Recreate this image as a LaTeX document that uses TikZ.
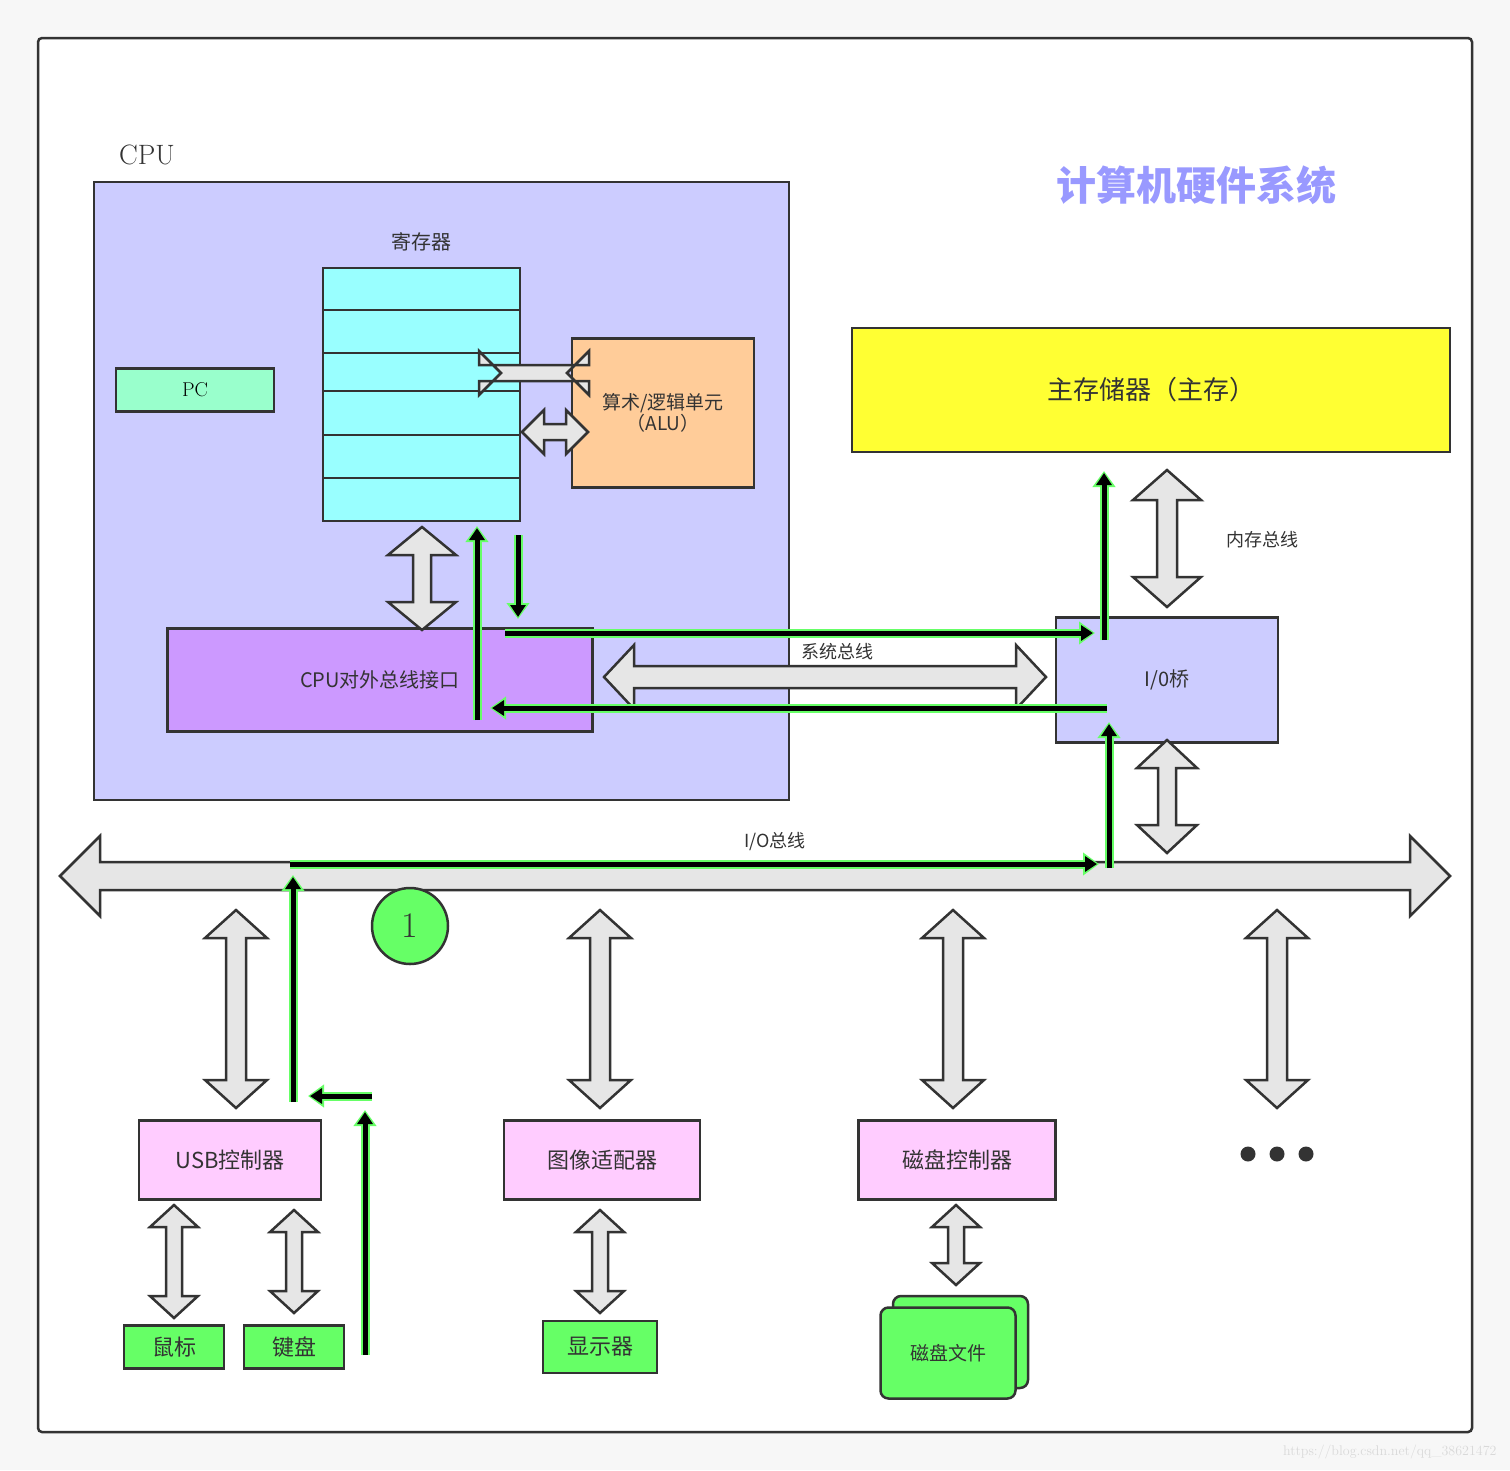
\documentclass[tikz,border=0pt]{standalone}
\usepackage{fontspec}
\newfontfamily\cjk{Noto Sans CJK SC}
\usetikzlibrary{arrows.meta}
\definecolor{bord}{HTML}{333333}
\definecolor{hol}{HTML}{E6E6E6}
\definecolor{glow}{HTML}{66FF66}
\newcommand{\fs}[1]{\fontsize{#1}{#1}\selectfont}
% vertical double hollow arrow: x, ytop, ybot, body half, head half, head len
\newcommand{\vdbl}[6]{\draw[bord,line width=2.5pt,fill=hol,line join=miter]
 (#1,#2) -- (#1+#5,#2+#6) -- (#1+#4,#2+#6) -- (#1+#4,#3-#6) -- (#1+#5,#3-#6) -- (#1,#3)
 -- (#1-#5,#3-#6) -- (#1-#4,#3-#6) -- (#1-#4,#2+#6) -- (#1-#5,#2+#6) -- cycle;}
\newcommand{\hdbl}[6]{\draw[bord,line width=2.5pt,fill=hol,line join=miter]
 (#2,#1) -- (#2+#6,#1-#5) -- (#2+#6,#1-#4) -- (#3-#6,#1-#4) -- (#3-#6,#1-#5) -- (#3,#1)
 -- (#3-#6,#1+#5) -- (#3-#6,#1+#4) -- (#2+#6,#1+#4) -- (#2+#6,#1+#5) -- cycle;}
\tikzset{box/.style={draw=bord,line width=2.5pt},
 flow/.style={line width=9pt,glow,-{Triangle[length=16pt,width=22pt]}},
 flowin/.style={line width=5pt,black,shorten >=2pt,-{Triangle[length=12pt,width=15pt]}},
 lbl/.style={font=\cjk\fs{20},text=bord}}
\newcommand{\flowp}[2]{\draw[flow] #1 -- #2; \draw[flowin] #1 -- #2;}
\begin{document}
\begin{tikzpicture}[x=1pt,y=-1pt]
\fill[white!97!black] (0,0) rectangle (1510,1470);
\useasboundingbox (0,0) rectangle (1510,1470);
\draw[box,fill=white,rounded corners=4pt] (38,38) rectangle (1472,1432);
\node[font=\fs{28},text=bord] (cpul) at (147,155) {CPU};
\draw[box,fill={rgb,255:red,204;green,204;blue,255}] (94,182) rectangle (789,800);
\node[font=\cjk\bfseries\fs{40},text={rgb,255:red,153;green,153;blue,255}] (title) at (1196,185) {计算机硬件系统};
\node[lbl] (regl) at (421,242) {寄存器};
\draw[box,fill={rgb,255:red,153;green,255;blue,255}] (323,268) rectangle (520,521);
\foreach \y in {310,353,391,435,478} \draw[bord,line width=2.5pt] (323,\y) -- (520,\y);
\node[box,fill={rgb,255:red,153;green,255;blue,204},minimum width=158pt,minimum height=43pt,font=\fs{20}] (pc) at (195,390) {PC};
\node[box,fill={rgb,255:red,255;green,204;blue,153},minimum width=182pt,minimum height=149pt,align=center,font=\cjk\fs{19},text=bord] (alu) at (663,413) {算术/逻辑单元\\（ALU）};
\hdbl{373}{567}{501}{8}{22}{22}
\hdbl{432}{522}{588}{8}{22}{22}
\node[box,fill={rgb,255:red,255;green,255;blue,51},minimum width=598pt,minimum height=124pt,font=\cjk\fs{26},text=bord] (mem) at (1151,390) {主存储器（主存）};
\vdbl{1167}{470}{607}{10}{34}{30}
\node[lbl,font=\cjk\fs{18}] (mbl) at (1262,540) {内存总线};
\node[box,fill={rgb,255:red,204;green,204;blue,255},minimum width=222pt,minimum height=125pt,font=\cjk\fs{20},text=bord] (iob) at (1167,680) {I/0桥};
\node[box,fill={rgb,255:red,204;green,153;blue,255},minimum width=425pt,minimum height=103pt,font=\cjk\fs{20},text=bord] (bif) at (380,680) {CPU对外总线接口};
\vdbl{422}{527}{630}{9}{34}{28}
\hdbl{677}{604}{1046}{11}{32}{30}
\node[lbl,font=\cjk\fs{18}] (sbl) at (837,652) {系统总线};
\vdbl{1167}{740}{853}{9}{30}{28}
\hdbl{876}{60}{1450}{14}{40}{40}
\node[lbl,font=\cjk\fs{18}] (iobl) at (775,842) {I/O总线};
\foreach \x in {236,600,953,1277} {\vdbl{\x}{910}{1108}{10}{31}{28}}
\node[box,fill={rgb,255:red,255;green,204;blue,255},minimum width=182pt,minimum height=79pt,lbl,font=\cjk\fs{22}] (usb) at (230,1160) {USB控制器};
\node[box,fill={rgb,255:red,255;green,204;blue,255},minimum width=196pt,minimum height=79pt,lbl,font=\cjk\fs{22}] (gpu) at (602,1160) {图像适配器};
\node[box,fill={rgb,255:red,255;green,204;blue,255},minimum width=197pt,minimum height=79pt,lbl,font=\cjk\fs{22}] (disk) at (957,1160) {磁盘控制器};
\foreach \x in {1248,1277,1306} \fill[bord] (\x,1154) circle (7.5);
\vdbl{174}{1205}{1318}{8}{24}{22}
\vdbl{294}{1210}{1313}{8}{24}{22}
\vdbl{600}{1210}{1313}{8}{24}{22}
\vdbl{956}{1205}{1285}{8}{24}{22}
\node[box,fill={rgb,255:red,102;green,255;blue,102},minimum width=100pt,minimum height=43pt,lbl,font=\cjk\fs{22}] (mouse) at (174,1347) {鼠标};
\node[box,fill={rgb,255:red,102;green,255;blue,102},minimum width=100pt,minimum height=43pt,lbl,font=\cjk\fs{22}] (kbd) at (294,1347) {键盘};
\node[box,fill={rgb,255:red,102;green,255;blue,102},minimum width=114pt,minimum height=52pt,lbl,font=\cjk\fs{22}] (mon) at (600,1347) {显示器};
\draw[box,fill={rgb,255:red,102;green,255;blue,102},rounded corners=8pt] (893,1296) rectangle (1028,1388);
\node[box,fill={rgb,255:red,102;green,255;blue,102},rounded corners=8pt,minimum width=135pt,minimum height=91pt,lbl,font=\cjk\fs{19}] (dfile) at (948,1353) {磁盘文件};
\node[box,circle,fill={rgb,255:red,102;green,255;blue,102},minimum size=76pt,font=\fs{36},text=bord,inner sep=0pt] (one) at (410,926) {1};
\flowp{(365,1355)}{(365,1110)}
\flowp{(372,1096)}{(308,1096)}
\flowp{(293,1102)}{(293,875)}
\flowp{(290,864)}{(1099,864)}
\flowp{(1109,868)}{(1109,722)}
\flowp{(1107,708)}{(490,708)}
\flowp{(477,720)}{(477,526)}
\flowp{(518,535)}{(518,619)}
\flowp{(505,633)}{(1095,633)}
\flowp{(1104,640)}{(1104,471)}
\node[font=\fs{14},text=white!85!black,anchor=east] (wm) at (1500,1452) {https://blog.csdn.net/qq\_38621472};
\end{tikzpicture}
\end{document}
